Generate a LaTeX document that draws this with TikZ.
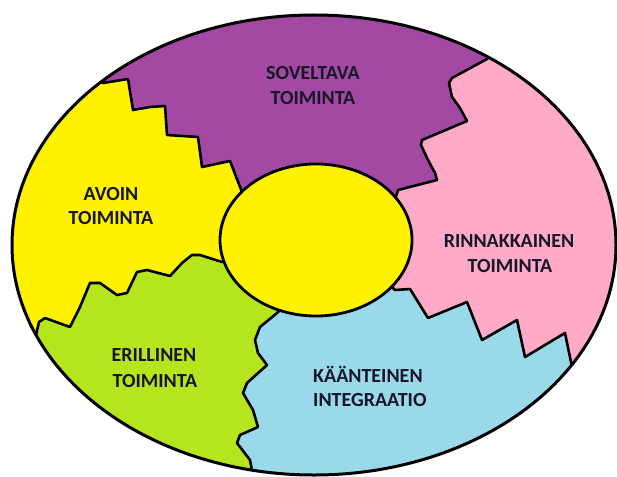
\documentclass[tikz,border=0pt]{standalone}
\usepackage{fontspec}
\setmainfont{Carlito}
\definecolor{purp}{RGB}{163,73,164}
\definecolor{yel}{RGB}{255,242,0}
\definecolor{pnk}{RGB}{255,170,200}
\definecolor{lgreen}{RGB}{181,230,29}
\definecolor{lblue}{RGB}{153,217,234}
\definecolor{txt}{RGB}{22,22,40}
\begin{document}
\begin{tikzpicture}[x=1pt,y=-1pt,
  border/.style={line width=2.6pt,line join=round,draw=black},
  lab/.style={font=\bfseries\fontsize{20}{24}\selectfont,text=txt,inner sep=0pt,anchor=base}]
\useasboundingbox (0,0) rectangle (617,476);
\begin{scope}
\clip (314,245) ellipse [x radius=302,y radius=230];
\fill[yel] (-10,-10) rectangle (630,490);
% purple
\fill[purp] (316,240) -- (250,200) -- (242,192) -- (230,161) -- (202,167) -- (198,137) -- (167,135) -- (165,106) -- (150,107) -- (133,110) -- (128,79) -- (103,83) -- (70,55) -- (50,-20) -- (560,-20) -- (500,40) -- (487,59) -- (452,78) -- (449,83) -- (452,97) -- (460,108) -- (467,121) -- (422,140) -- (421,145) -- (428,160) -- (435,173) -- (437,180) -- (398,190) -- (395,200) -- cycle;
% pink
\fill[pnk] (316,240) -- (395,200) -- (398,190) -- (437,180) -- (435,173) -- (428,160) -- (421,145) -- (422,140) -- (467,121) -- (460,108) -- (452,97) -- (449,83) -- (452,78) -- (487,59) -- (500,40) -- (560,-20) -- (700,-20) -- (700,420) -- (578,390) -- (572,367) -- (565,333) -- (525,357) -- (517,320) -- (482,340) -- (467,302) -- (428,318) -- (410,289) -- (395,290) -- (385,280) -- cycle;
% blue
\fill[lblue] (316,240) -- (385,280) -- (395,290) -- (410,289) -- (428,318) -- (467,302) -- (482,340) -- (517,320) -- (525,357) -- (565,333) -- (572,367) -- (578,390) -- (700,420) -- (700,520) -- (256,520) -- (253,476) -- (250,460) -- (237,443) -- (240,435) -- (258,427) -- (253,410) -- (243,393) -- (247,383) -- (267,365) -- (258,353) -- (255,340) -- (260,327) -- (277,313) -- (285,305) -- cycle;
% green
\fill[lgreen] (316,240) -- (285,305) -- (277,313) -- (260,327) -- (255,340) -- (258,353) -- (267,365) -- (247,383) -- (243,393) -- (253,410) -- (258,427) -- (240,435) -- (237,443) -- (250,460) -- (253,476) -- (256,520) -- (-50,520) -- (-50,350) -- (10,345) -- (36,335) -- (39,322) -- (45,318) -- (70,327) -- (80,307) -- (90,283) -- (100,283) -- (117,295) -- (127,293) -- (137,272) -- (147,270) -- (170,276) -- (182,263) -- (192,255) -- (200,255) -- (222,262) -- (235,258) -- cycle;
% boundaries
\draw[border] (70,55) -- (103,83) -- (128,79) -- (133,110) -- (150,107) -- (165,106) -- (167,135) -- (198,137) -- (202,167) -- (230,161) -- (242,192) -- (250,200);
\draw[border] (500,40) -- (487,59) -- (452,78) -- (449,83) -- (452,97) -- (460,108) -- (467,121) -- (422,140) -- (421,145) -- (428,160) -- (435,173) -- (437,180) -- (398,190) -- (395,200);
\draw[border] (385,280) -- (395,290) -- (410,289) -- (428,318) -- (467,302) -- (482,340) -- (517,320) -- (525,357) -- (565,333) -- (572,367) -- (578,390);
\draw[border] (285,305) -- (277,313) -- (260,327) -- (255,340) -- (258,353) -- (267,365) -- (247,383) -- (243,393) -- (253,410) -- (258,427) -- (240,435) -- (237,443) -- (250,460) -- (253,476) -- (256,520);
\draw[border] (10,345) -- (36,335) -- (39,322) -- (45,318) -- (70,327) -- (80,307) -- (90,283) -- (100,283) -- (117,295) -- (127,293) -- (137,272) -- (147,270) -- (170,276) -- (182,263) -- (192,255) -- (200,255) -- (222,262) -- (235,258);
\end{scope}
\draw[line width=3pt] (314,245) ellipse [x radius=302,y radius=230];
\filldraw[fill=yel,line width=2.8pt] (316,240) ellipse [x radius=96,y radius=76];
% labels
\node[lab] (s1) at (313,80) {SOVELTAVA};
\node[lab] (s2) at (313,104) {TOIMINTA};
\node[lab] (a1) at (111,200) {AVOIN};
\node[lab] (a2) at (111,224) {TOIMINTA};
\node[lab] (r1) at (509,247) {RINNAKKAINEN};
\node[lab] (r2) at (510,272) {TOIMINTA};
\node[lab] (e1) at (154,361) {ERILLINEN};
\node[lab] (e2) at (155,387) {TOIMINTA};
\node[lab,anchor=base west] (k1) at (313,382) {KÄÄNTEINEN};
\node[lab,anchor=base west] (k2) at (313,406) {INTEGRAATIO};
\end{tikzpicture}
\end{document}
